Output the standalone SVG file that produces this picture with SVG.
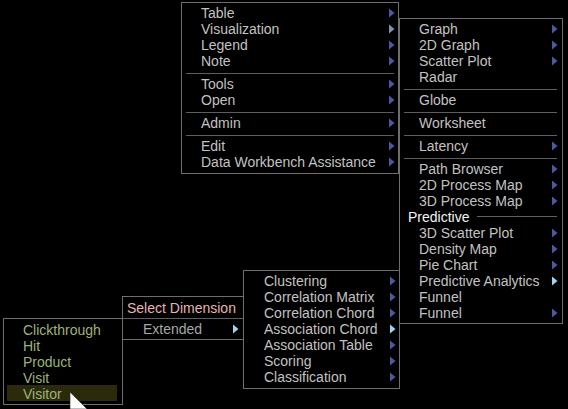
<svg xmlns="http://www.w3.org/2000/svg" width="568" height="409" viewBox="0 0 568 409">
<style>
.box{fill:#000;stroke:#6e6e6e;stroke-width:1}
.sep{stroke:#5e5e5e;stroke-width:1}
text{font-family:"Liberation Sans",Arial,sans-serif;font-size:14px}
.t{fill:#c2c2c2}
.g{fill:#9db27c}
.hd{fill:#f4f4f4}
.pk{fill:#e6b4b4}
.ex{fill:#a6a6a6}
polygon.ar{fill:#4a5aa2}
polygon.aa{fill:#9fd4f2}
polygon.av{fill:#7896b4}
</style>
<rect x="0" y="0" width="568" height="409" fill="#000"/>
<g id="connectors"></g>

<g id="menu-main">
<rect class="box" x="181.5" y="2.5" width="217" height="171"/>
<text class="t" x="201" y="18">Table</text>
<text class="t" x="201" y="34">Visualization</text>
<text class="t" x="201" y="50">Legend</text>
<text class="t" x="201" y="66">Note</text>
<line class="sep" x1="186" y1="73.5" x2="394" y2="73.5"/>
<text class="t" x="201" y="89">Tools</text>
<text class="t" x="201" y="105">Open</text>
<line class="sep" x1="186" y1="112.5" x2="394" y2="112.5"/>
<text class="t" x="201" y="128">Admin</text>
<line class="sep" x1="186" y1="135.5" x2="394" y2="135.5"/>
<text class="t" x="201" y="151">Edit</text>
<text class="t" x="201" y="167">Data Workbench Assistance</text>
<polygon class="ar" transform="translate(389 13)" points="0,-4.5 5.5,0 0,4.5"/>
<polygon class="av" transform="translate(389 29)" points="0,-4.5 5.5,0 0,4.5"/>
<polygon class="ar" transform="translate(389 45)" points="0,-4.5 5.5,0 0,4.5"/>
<polygon class="ar" transform="translate(389 61)" points="0,-4.5 5.5,0 0,4.5"/>
<polygon class="ar" transform="translate(389 84)" points="0,-4.5 5.5,0 0,4.5"/>
<polygon class="ar" transform="translate(389 100)" points="0,-4.5 5.5,0 0,4.5"/>
<polygon class="ar" transform="translate(389 123)" points="0,-4.5 5.5,0 0,4.5"/>
<polygon class="ar" transform="translate(389 146)" points="0,-4.5 5.5,0 0,4.5"/>
<polygon class="ar" transform="translate(389 162)" points="0,-4.5 5.5,0 0,4.5"/>
</g>

<g id="menu-visualization">
<rect class="box" x="399.5" y="18.5" width="163" height="305"/>
<text class="t" x="419" y="34">Graph</text>
<text class="t" x="419" y="50">2D Graph</text>
<text class="t" x="419" y="66">Scatter Plot</text>
<text class="t" x="419" y="82">Radar</text>
<line class="sep" x1="404" y1="89.5" x2="557" y2="89.5"/>
<text class="t" x="419" y="105">Globe</text>
<line class="sep" x1="404" y1="112.5" x2="557" y2="112.5"/>
<text class="t" x="419" y="128">Worksheet</text>
<line class="sep" x1="404" y1="135.5" x2="557" y2="135.5"/>
<text class="t" x="419" y="151">Latency</text>
<line class="sep" x1="404" y1="158.5" x2="557" y2="158.5"/>
<text class="t" x="419" y="174">Path Browser</text>
<text class="t" x="419" y="190">2D Process Map</text>
<text class="t" x="419" y="206">3D Process Map</text>
<text class="hd" x="408" y="222">Predictive</text>
<line class="sep" x1="477" y1="216.5" x2="557" y2="216.5"/>
<text class="t" x="419" y="238">3D Scatter Plot</text>
<text class="t" x="419" y="254">Density Map</text>
<text class="t" x="419" y="270">Pie Chart</text>
<text class="t" x="419" y="286">Predictive Analytics</text>
<text class="t" x="419" y="302">Funnel</text>
<text class="t" x="419" y="318">Funnel</text>
<polygon class="ar" transform="translate(552 29)" points="0,-4.5 5.5,0 0,4.5"/>
<polygon class="ar" transform="translate(552 45)" points="0,-4.5 5.5,0 0,4.5"/>
<polygon class="ar" transform="translate(552 61)" points="0,-4.5 5.5,0 0,4.5"/>
<polygon class="ar" transform="translate(552 146)" points="0,-4.5 5.5,0 0,4.5"/>
<polygon class="ar" transform="translate(552 169)" points="0,-4.5 5.5,0 0,4.5"/>
<polygon class="ar" transform="translate(552 185)" points="0,-4.5 5.5,0 0,4.5"/>
<polygon class="ar" transform="translate(552 201)" points="0,-4.5 5.5,0 0,4.5"/>
<polygon class="ar" transform="translate(552 233)" points="0,-4.5 5.5,0 0,4.5"/>
<polygon class="ar" transform="translate(552 249)" points="0,-4.5 5.5,0 0,4.5"/>
<polygon class="ar" transform="translate(552 265)" points="0,-4.5 5.5,0 0,4.5"/>
<polygon class="aa" transform="translate(552 281)" points="0,-4.5 5.5,0 0,4.5"/>
<polygon class="ar" transform="translate(552 313)" points="0,-4.5 5.5,0 0,4.5"/>
</g>

<g id="menu-analytics">
<rect class="box" x="243.5" y="270.5" width="156" height="118"/>
<text class="t" x="264" y="286">Clustering</text>
<text class="t" x="264" y="302">Correlation Matrix</text>
<text class="t" x="264" y="318">Correlation Chord</text>
<text class="t" x="264" y="334">Association Chord</text>
<text class="t" x="264" y="350">Association Table</text>
<text class="t" x="264" y="366">Scoring</text>
<text class="t" x="264" y="382">Classification</text>
<polygon class="ar" transform="translate(390 281)" points="0,-4.5 5.5,0 0,4.5"/>
<polygon class="ar" transform="translate(390 297)" points="0,-4.5 5.5,0 0,4.5"/>
<polygon class="ar" transform="translate(390 313)" points="0,-4.5 5.5,0 0,4.5"/>
<polygon class="aa" transform="translate(390 329)" points="0,-4.5 5.5,0 0,4.5"/>
<polygon class="ar" transform="translate(390 345)" points="0,-4.5 5.5,0 0,4.5"/>
<polygon class="ar" transform="translate(390 361)" points="0,-4.5 5.5,0 0,4.5"/>
<polygon class="ar" transform="translate(390 377)" points="0,-4.5 5.5,0 0,4.5"/>
</g>

<g id="menu-select-dimension">
<rect class="box" x="122.5" y="296.5" width="121" height="43"/>
<line class="sep" x1="122.5" y1="318.5" x2="243.5" y2="318.5"/>
<text class="pk" x="127" y="313">Select Dimension</text>
<text class="ex" x="143" y="334">Extended</text>
<polygon class="aa" transform="translate(233 329)" points="0,-4.5 5.5,0 0,4.5"/>
</g>

<g id="menu-dimensions">
<rect class="box" x="3.5" y="318.5" width="119" height="86"/>
<rect x="7" y="385" width="110" height="16" fill="#2b2b0c"/>
<text class="g" x="23" y="335">Clickthrough</text>
<text class="g" x="23" y="351">Hit</text>
<text class="g" x="23" y="367">Product</text>
<text class="g" x="23" y="383">Visit</text>
<text class="g" x="23" y="399">Visitor</text>
</g>

<g id="cursor">
<polygon points="70,392 70,409 87,409" fill="#fff" stroke="#222" stroke-width="0.6"/>
</g>
</svg>
